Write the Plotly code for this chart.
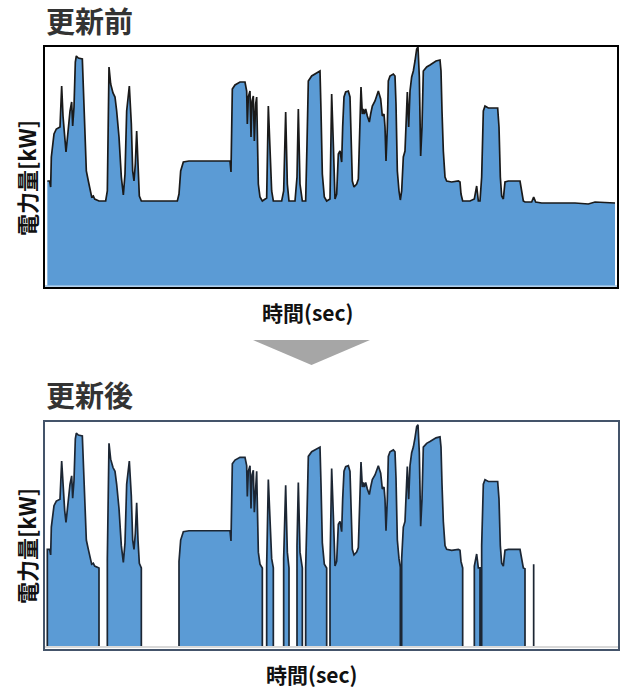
import plotly.graph_objects as go

# ---- data (time in sec, power in kW) ----
time_s = [1, 8, 11, 13, 21, 28, 39, 44, 48, 53, 57, 63, 69, 74, 77, 81, 85, 88, 94, 106,
          109, 113, 118, 124, 129, 134, 139, 143, 156, 176, 181, 186, 191, 198, 204, 209, 216, 223, 229, 234,
          239, 247, 253, 257, 261, 265, 269, 273, 277, 283, 331, 391, 396, 401, 409, 426, 549, 552, 556, 564,
          579, 594, 599, 601, 604, 609, 612, 615, 619, 622, 626, 629, 634, 639, 646, 659, 664, 669, 674, 679,
          704, 710, 716, 721, 726, 744, 750, 754, 759, 766, 776, 780, 784, 794, 809, 819, 822, 826, 832, 839,
          849, 854, 859, 864, 869, 874, 879, 884, 887, 891, 896, 904, 909, 912, 916, 921, 929, 934, 939, 942,
          946, 949, 952, 956, 961, 967, 971, 976, 984, 994, 1001, 1006, 1011, 1014, 1017, 1021, 1024, 1029, 1039, 1044,
          1047, 1051, 1056, 1060, 1064, 1069, 1074, 1077, 1081, 1085, 1089, 1094, 1099, 1104, 1109, 1113, 1117, 1121, 1125, 1129,
          1139, 1149, 1167, 1179, 1182, 1185, 1189, 1194, 1199, 1214, 1234, 1239, 1242, 1247, 1269, 1282, 1289, 1294, 1299, 1304,
          1309, 1314, 1324, 1339, 1352, 1356, 1360, 1364, 1369, 1374, 1384, 1419, 1424, 1429, 1434, 1454, 1460, 1466, 1484, 1534,
          1584, 1624, 1644, 1704]

power_before = [105, 105, 99, 129, 152, 157, 159, 200, 170, 147, 134, 154, 175, 184, 160, 179, 224, 230, 228, 227,
                199, 159, 115, 105, 95, 89, 90, 87, 85, 85, 95, 219, 202, 193, 189, 175, 149, 109, 91, 112,
                175, 200, 162, 115, 105, 122, 155, 115, 90, 85, 85, 85, 92, 115, 124, 125, 125, 114, 197, 201,
                204, 204, 195, 162, 189, 195, 149, 185, 190, 145, 182, 189, 102, 89, 85, 88, 180, 142, 95, 85,
                85, 95, 174, 102, 85, 85, 109, 177, 102, 85, 85, 142, 205, 210, 213, 215, 175, 112, 89, 85,
                87, 192, 142, 87, 92, 132, 135, 124, 159, 189, 194, 195, 189, 142, 105, 99, 102, 107, 175, 199,
                172, 177, 172, 177, 170, 164, 172, 180, 185, 195, 187, 170, 172, 159, 125, 159, 205, 210, 212, 210,
                182, 115, 95, 86, 95, 129, 135, 165, 194, 159, 195, 209, 215, 225, 237, 239, 209, 130, 159, 215,
                219, 221, 225, 226, 215, 175, 135, 109, 105, 104, 105, 104, 92, 85, 85, 87, 100, 85, 85, 109,
                175, 180, 178, 178, 178, 159, 109, 90, 87, 104, 105, 105, 95, 85, 84, 84, 89, 84, 83, 83,
                83, 82, 84, 83]

# operating periods kept after the update (sec); outside them power is 0
active_periods = [(1, 156), (181, 283), (396, 646), (659, 679), (710, 726), (750, 766),
                  (776, 839), (849, 1060), (1064, 1247), (1282, 1299), (1304, 1434), (1460, 1460)]

t_end = 1704

# build "after" series from the periods
after_t, after_v = [], []
for s, e in active_periods:
    idx = [i for i, t in enumerate(time_s) if s <= t <= e]
    after_t.append(time_s[idx[0]]); after_v.append(0)
    for i in idx:
        after_t.append(time_s[i]); after_v.append(power_before[i])
    after_t.append(time_s[idx[-1]]); after_v.append(0)
after_t.append(t_end); after_v.append(0)

W, H = 640, 700
FILL = "#5B9BD5"
FONT = "Noto Sans CJK JP"

fig = go.Figure()
fig.add_trace(go.Scatter(x=time_s, y=power_before, mode="lines", fill="tozeroy",
                         fillcolor=FILL, line=dict(color="#1a1a1a", width=1.7),
                         xaxis="x", yaxis="y", hoverinfo="skip"))
fig.add_trace(go.Scatter(x=after_t, y=after_v, mode="lines", fill="tozeroy",
                         fillcolor=FILL, line=dict(color="#1c2633", width=1.7),
                         xaxis="x2", yaxis="y2", hoverinfo="skip"))

ax_common = dict(showgrid=False, zeroline=False, showticklabels=False, ticks="",
                 showline=True, mirror=True)

fig.update_layout(
    width=W, height=H, margin=dict(l=0, r=0, t=0, b=0),
    paper_bgcolor="white", plot_bgcolor="white", showlegend=False,
    xaxis=dict(domain=[45/W, 617/W], range=[-6, 1710], anchor="y",
               linecolor="black", linewidth=2, **ax_common),
    yaxis=dict(domain=[1-287/H, 1-47/H], range=[-1, 239], anchor="x",
               linecolor="black", linewidth=2, **ax_common),
    xaxis2=dict(domain=[45/W, 618/W], range=[-6, 1713], anchor="y2",
                linecolor="#44546A", linewidth=2, **ax_common),
    yaxis2=dict(domain=[1-649/H, 1-422/H], range=[-2.2, 242], anchor="x2",
                linecolor="#44546A", linewidth=2, **ax_common),
)

shapes = [
    dict(type="line", xref="x", yref="y", x0=-6, x1=1710, y0=0, y1=0,
         line=dict(color="#9DC3E6", width=1.5), layer="above"),
    dict(type="line", xref="x2", yref="y2", x0=-6, x1=1713, y0=0, y1=0,
         line=dict(color="#D9D9D9", width=2), layer="above"),
    dict(type="path", xref="paper", yref="paper",
         path=f"M {253/W} {1-340/H} L {370/W} {1-340/H} L {311.5/W} {1-365/H} Z",
         fillcolor="#A6A6A6", line=dict(width=0)),
]
fig.update_layout(shapes=shapes)

ann = []
for txt, y in [("更新前", 20.5), ("更新後", 394)]:
    ann.append(dict(text=txt, x=44/W, y=1-y/H, xref="paper", yref="paper",
                    xanchor="left", yanchor="middle", showarrow=False,
                    font=dict(family=FONT, size=29, color="#333333", weight="bold")))
for y in [178, 546]:
    ann.append(dict(text="電力量[kW]", x=26/W, y=1-y/H, xref="paper", yref="paper",
                    xanchor="center", yanchor="middle", showarrow=False, textangle=-90,
                    font=dict(family=FONT, size=22, color="#111111", weight="bold")))
for x, y in [(308, 312), (312, 674)]:
    ann.append(dict(text="時間(sec)", x=x/W, y=1-y/H, xref="paper", yref="paper",
                    xanchor="center", yanchor="middle", showarrow=False,
                    font=dict(family=FONT, size=21, color="#111111", weight="bold")))
fig.update_layout(annotations=ann)

fig.write_html("out.html")
